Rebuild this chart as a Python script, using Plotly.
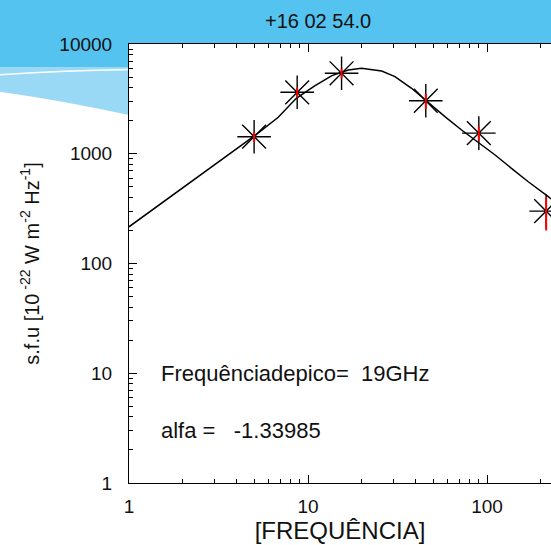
import plotly.graph_objects as go

# ---- data ----
freq_obs = [5.0, 8.7, 15.4, 45.5, 90.0, 214.0]          # GHz
flux_obs = [1430, 3630, 5410, 3040, 1540, 300]           # s.f.u.
flux_err = [150, 380, 570, 480, 230, 100]

fit_freq = [1.0, 1.52, 2.34, 3.59, 4.95, 6.82, 8.60, 10.9, 13.6, 16.8, 19.9,
            25.8, 30.6, 37.9, 45.1, 58.2, 72.1, 89.4, 111, 137, 170, 220, 228]
fit_flux = [216, 355, 590, 975, 1430, 2150, 3200, 4150, 5150, 5800, 6010,
            5680, 5040, 3950, 3090, 2180, 1645, 1270, 974, 737, 556, 406, 387]

x_tickvals = [1, 10, 100]
x_ticktext = ["1", "10", "100"]
y_tickvals = [1, 10, 100, 1000, 10000]
y_ticktext = ["1", "10", "100", "1000", "10000"]

title_text = "+16 02 54.0"
peak_text = "Frequênciadepico=  19GHz"
alfa_text = "alfa =   -1.33985"

FONT = "Liberation Sans, Arial, sans-serif"
DARK_BLUE = "#55C3F0"
LIGHT_BLUE = "#9AD9F6"

W, H = 551, 545
ML, MR, MT, MB = 129, 0, 44, 62
PW, PH = W - ML - MR, H - MT - MB


def px(xpix):
    return (xpix - ML) / PW


def py(ypix):
    return (H - MB - ypix) / PH


x_minor = [m * d for d in (1, 10, 100) for m in range(2, 10) if m * d < 230]
y_minor = [m * d for d in (1, 10, 100, 1000) for m in range(2, 10)]

fig = go.Figure()

fig.add_trace(go.Scatter(
    x=fit_freq, y=fit_flux, mode="lines",
    line=dict(color="black", width=1.5),
    showlegend=False, hoverinfo="skip"))

fig.add_trace(go.Scatter(
    x=freq_obs, y=flux_obs, mode="markers",
    marker=dict(symbol="asterisk-open", size=28, color="black",
                line=dict(color="black", width=1.4)),
    showlegend=False))

fig.add_trace(go.Scatter(
    x=freq_obs, y=flux_obs, mode="markers",
    marker=dict(size=1, color="rgba(0,0,0,0)"),
    error_y=dict(type="data", array=flux_err, color="red", thickness=2, width=0),
    showlegend=False, hoverinfo="skip"))

# slide background decoration
shapes = [
    dict(type="rect", xref="paper", yref="paper", x0=px(-5), x1=px(W + 5),
         y0=py(MT), y1=py(-5), fillcolor=DARK_BLUE, line=dict(width=0), layer="below"),
    dict(type="path", xref="paper", yref="paper",
         path=f"M {px(-5)} {py(67)} L {px(ML)} {py(67)} L {px(ML)} {py(115)} "
              f"Q {px(60)} {py(100)} {px(-5)} {py(91)} Z",
         fillcolor=LIGHT_BLUE, line=dict(width=0), layer="below"),
    dict(type="rect", xref="paper", yref="paper", x0=px(-5), x1=px(ML),
         y0=py(67), y1=py(MT - 1), fillcolor=DARK_BLUE, line=dict(width=0), layer="below"),
    dict(type="path", xref="paper", yref="paper",
         path=f"M {px(-5)} {py(75)} Q {px(64)} {py(70.5)} {px(ML)} {py(69.5)}",
         line=dict(color="white", width=1.5), layer="below"),
]

annotations = [
    dict(text=title_text, xref="paper", yref="paper", x=px(318), y=py(21),
         xanchor="center", yanchor="middle", showarrow=False,
         font=dict(family=FONT, size=20, color="#111111")),
    dict(text=peak_text, xref="paper", yref="paper", x=px(159), y=py(373),
         xanchor="left", yanchor="middle", showarrow=False,
         font=dict(family=FONT, size=22, color="#111111")),
    dict(text=alfa_text, xref="paper", yref="paper", x=px(159), y=py(430),
         xanchor="left", yanchor="middle", showarrow=False,
         font=dict(family=FONT, size=22, color="#111111")),
]

fig.update_layout(
    width=W, height=H,
    margin=dict(l=ML, r=MR, t=MT, b=MB, pad=0),
    paper_bgcolor="white", plot_bgcolor="white",
    shapes=shapes, annotations=annotations,
    font=dict(family=FONT, color="#111111"),
    xaxis=dict(
        type="log", range=[0, 2.3575],
        tickmode="array", tickvals=x_tickvals, ticktext=x_ticktext,
        ticks="inside", ticklen=8, tickwidth=1, tickcolor="black",
        minor=dict(tickmode="array", tickvals=x_minor, ticks="inside",
                   ticklen=4, tickwidth=1, tickcolor="black", showgrid=False),
        showline=True, linecolor="black", linewidth=1, mirror="ticks",
        showgrid=False, zeroline=False,
        tickfont=dict(family=FONT, size=19, color="#111111"),
        ticklabelstandoff=6,
        title=dict(text="[FREQUÊNCIA]", standoff=0,
                   font=dict(family=FONT, size=24, color="#111111")),
    ),
    yaxis=dict(
        type="log", range=[0, 4],
        tickmode="array", tickvals=y_tickvals, ticktext=y_ticktext,
        ticks="inside", ticklen=8, tickwidth=1, tickcolor="black",
        minor=dict(tickmode="array", tickvals=y_minor, ticks="inside",
                   ticklen=4, tickwidth=1, tickcolor="black", showgrid=False),
        showline=True, linecolor="black", linewidth=1, mirror=False,
        showgrid=False, zeroline=False,
        tickfont=dict(family=FONT, size=19, color="#111111"),
        ticklabelstandoff=12,
        title=dict(text="s.f.u [10<sup> -22</sup> W m<sup>-2</sup> Hz<sup>-1</sup>]",
                   standoff=14,
                   font=dict(family=FONT, size=20, color="#111111")),
    ),
)

fig.write_html("out.html")
